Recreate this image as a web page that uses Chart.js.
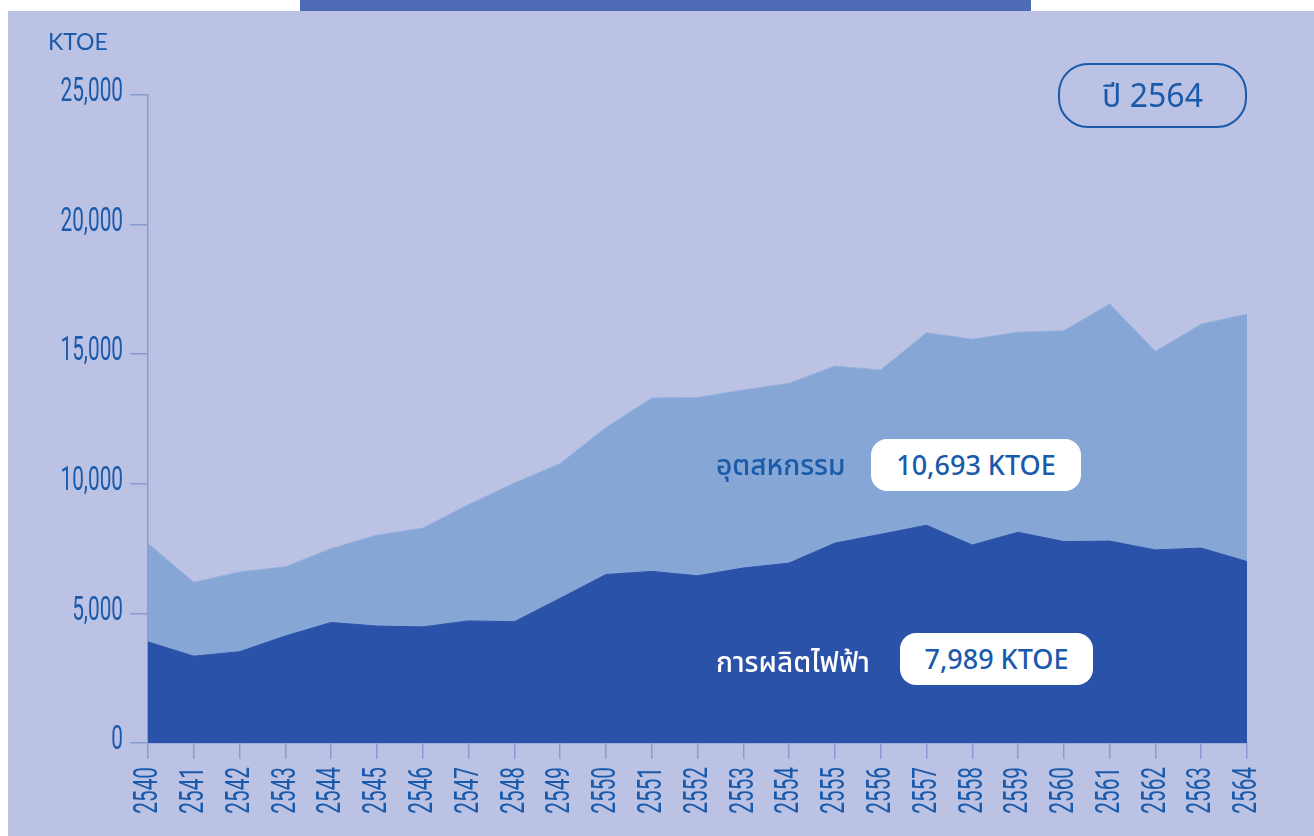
<!DOCTYPE html>
<html>
<head>
<meta charset="utf-8">
<script src="https://cdn.jsdelivr.net/npm/chart.js@4"></script>
<style>
  html, body { margin: 0; padding: 0; background: #ffffff; }
  #wrap { position: relative; width: 1314px; height: 836px; overflow: hidden; }
  #panel { position: absolute; left: 8px; top: 11px; right: 0; bottom: 0; background: #bcc2e3; }
  #topbar { position: absolute; left: 300px; top: 0; width: 731px; height: 11px; background: #4e6cb5; }
  #chart { position: absolute; left: 0; top: 0; }
  .txt { position: absolute; font-family: "Noto Sans", "Noto Sans Thai", sans-serif; white-space: nowrap; }
  #unit { left: 48px; top: 27px; font-family: Lato, sans-serif; font-size: 23px; color: #1a5aab; }
  #year { left: 1058px; top: 63px; width: 189px; height: 65px; box-sizing: border-box; border: 2.5px solid #1a5aab; border-radius: 30px;
          color: #1a5aab; font-size: 32px; text-align: center; line-height: 60px; }
  .name { font-size: 28px; font-weight: 500; }
  .box { background: #ffffff; border-radius: 16px; color: #1a5aab; font-size: 27px; font-weight: 500; text-align: center; }
</style>
</head>
<body>
<div id="wrap">
  <div id="panel"></div>
  <div id="topbar"></div>
  <canvas id="chart" width="1314" height="836"></canvas>
  <div class="txt" id="unit">KTOE</div>
  <div class="txt" id="year">ปี 2564</div>
  <div class="txt name" style="left:716px; top:445px; color:#1a5aab;">อุตสหกรรม</div>
  <div class="txt box" style="left:871px; top:439px; width:210px; height:52px; line-height:52px;">10,693 KTOE</div>
  <div class="txt name" style="left:716px; top:642px; color:#ffffff;">การผลิตไฟฟ้า</div>
  <div class="txt box" style="left:900px; top:633px; width:193px; height:52px; line-height:52px;">7,989 KTOE</div>
</div>
<script>
const years = ['2540', '2541', '2542', '2543', '2544', '2545', '2546', '2547', '2548', '2549',
  '2550', '2551', '2552', '2553', '2554', '2555', '2556', '2557', '2558', '2559',
  '2560', '2561', '2562', '2563', '2564'];

// การผลิตไฟฟ้า (KTOE)
const electricity = [3900, 3350, 3520, 4130, 4650, 4510, 4480, 4710, 4680, 5580,
  6500, 6620, 6450, 6750, 6940, 7710, 8050, 8400, 7640, 8130,
  7770, 7790, 7450, 7520, 7000];

// อุตสาหกรรม (KTOE), stacked on top of electricity
const industry = [3800, 2850, 3080, 2670, 2850, 3510, 3810, 4490, 5350, 5200,
  5670, 6690, 6880, 6870, 6940, 6830, 6340, 7430, 7940, 7720,
  8130, 9150, 7660, 8640, 9550];

const yTicks = [0, 5000, 10000, 15000, 20000, 25000];

const axisColor = '#8b9bd0';
const textColor = '#1a5aab';

// tick labels in the original are a tall condensed face, so squeeze them sideways
const narrowLabels = {
  id: 'narrowLabels',
  afterDraw(chart) {
    const ctx = chart.ctx;
    const xs = chart.scales.x;
    const ys = chart.scales.y;
    ctx.save();
    ctx.fillStyle = textColor;
    ctx.font = '33px Roboto, "DejaVu Sans Condensed", sans-serif';
    ctx.textBaseline = 'middle';
    ctx.textAlign = 'right';

    ys.ticks.forEach(t => {
      ctx.save();
      ctx.translate(ys.right - 18 - 7, ys.getPixelForValue(t.value) - 2);
      ctx.scale(0.63, 1);
      ctx.fillText(t.label, 0, 0);
      ctx.restore();
    });

    xs.ticks.forEach((t, i) => {
      ctx.save();
      ctx.translate(xs.getPixelForTick(i) + 1, xs.top + 16 + 8);
      ctx.rotate(-Math.PI / 2);
      ctx.scale(0.63, 1);
      ctx.fillText(t.label, 0, 0);
      ctx.restore();
    });
    ctx.restore();
  }
};

new Chart(document.getElementById('chart'), {
  type: 'line',
  data: {
    labels: years,
    datasets: [
      {
        label: 'การผลิตไฟฟ้า',
        data: electricity,
        fill: 'origin',
        backgroundColor: '#2a52a8',
        borderColor: '#2a52a8',
        borderWidth: 1,
        pointRadius: 0,
        tension: 0
      },
      {
        label: 'อุตสาหกรรม',
        data: industry,
        fill: '-1',
        backgroundColor: '#86a6d6',
        borderColor: '#94b0de',
        borderWidth: 1,
        pointRadius: 0,
        tension: 0
      }
    ]
  },
  plugins: [narrowLabels],
  options: {
    responsive: false,
    animation: false,
    devicePixelRatio: 1,
    layout: { padding: { left: 8, top: 95, right: 67, bottom: 0 } },
    plugins: { legend: { display: false }, tooltip: { enabled: false } },
    scales: {
      x: {
        offset: false,
        grid: { display: true, drawOnChartArea: false, color: axisColor, lineWidth: 1.5, tickLength: 16 },
        border: { display: true, color: axisColor, width: 1.5 },
        ticks: { autoSkip: false, display: false },
        afterFit: function (scale) { scale.height = 93; }
      },
      y: {
        stacked: true,
        min: 0,
        max: 25000,
        afterBuildTicks: function (scale) { scale.ticks = yTicks.map(v => ({ value: v })); },
        grid: { display: true, drawOnChartArea: false, color: axisColor, lineWidth: 1.5, tickLength: 18 },
        border: { display: true, color: axisColor, width: 1.5 },
        ticks: { display: false },
        afterFit: function (scale) { scale.width = 140; }
      }
    }
  }
});
</script>
</body>
</html>
